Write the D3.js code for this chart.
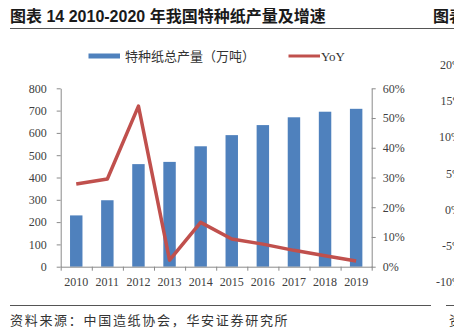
<!DOCTYPE html>
<html>
<head>
<meta charset="utf-8">
<script src="https://cdn.jsdelivr.net/npm/d3@7/dist/d3.min.js"></script>
<style>
  body { margin: 0; background: #fff; }
  svg { display: block; }
  .tick text { font-family: "Liberation Serif", "DejaVu Serif", serif; font-size: 12px; fill: #404040; }
</style>
</head>
<body>
<div id="chart"></div>
<script>
const W = 454, H = 335;

// 特种纸产量 2010-2019
const years = ["2010", "2011", "2012", "2013", "2014", "2015", "2016", "2017", "2018", "2019"];
const output = [230, 298, 460, 470, 540, 590, 635, 670, 695, 708];   // 万吨
const yoy = [0.278, 0.295, 0.540, 0.022, 0.149, 0.093, 0.076, 0.055, 0.037, 0.019];
const leftTicks = [0, 100, 200, 300, 400, 500, 600, 700, 800];
const rightTicks = [0, 0.1, 0.2, 0.3, 0.4, 0.5, 0.6];
// neighbouring panel, only its edge shows
const sideTicks = ["20%", "15%", "10%", "5%", "0%", "-5%", "-10%"];

const barColor = "#4F81BD", lineColor = "#C0504D", axisColor = "#8a8a8a";
const cjk = "'Noto Sans CJK SC', sans-serif";
const serif = "'Liberation Serif', 'DejaVu Serif', serif";

const svg = d3.select("#chart").append("svg")
    .attr("width", W)
    .attr("height", H);

const plotL = 60.7, plotR = 371.7, plotT = 88.3, plotB = 266.7;

const x = d3.scaleBand()
    .domain(years)
    .range([plotL, plotR])
    .paddingInner(0.6)
    .paddingOuter(0.3);

const slots = d3.scaleLinear().domain([0, years.length]).range([plotL, plotR]);

const y = d3.scaleLinear().domain([0, 800]).range([plotB, plotT]);
const y2 = d3.scaleLinear().domain([0, 0.6]).range([plotB, plotT]);

// title
svg.append("text")
    .attr("x", 10).attr("y", 22)
    .attr("font-family", "'Liberation Sans', " + cjk)
    .attr("font-weight", "bold")
    .attr("font-size", 16)
    .attr("fill", "#1a1a1a")
    .text("图表 14 2010-2020 年我国特种纸产量及增速");
svg.append("text")
    .attr("x", 433).attr("y", 22)
    .attr("font-family", cjk)
    .attr("font-weight", "bold")
    .attr("font-size", 16)
    .attr("fill", "#1a1a1a")
    .text("图表");
svg.append("line")
    .attr("x1", 10).attr("x2", W)
    .attr("y1", 28.5).attr("y2", 28.5)
    .attr("stroke", "#555").attr("stroke-width", 1);

// legend
const legend = svg.append("g").attr("font-family", cjk).attr("font-size", 13).attr("fill", "#333");
legend.append("rect")
    .attr("x", 88.5).attr("y", 53.5).attr("width", 31.5).attr("height", 5)
    .attr("fill", barColor);
legend.append("text")
    .attr("x", 125).attr("y", 60.5)
    .text("特种纸总产量（万吨）");
legend.append("line")
    .attr("x1", 288.5).attr("x2", 320).attr("y1", 56).attr("y2", 56)
    .attr("stroke", lineColor).attr("stroke-width", 3);
legend.append("text")
    .attr("x", 321).attr("y", 60.5)
    .attr("font-family", serif)
    .attr("font-size", 13)
    .text("YoY");

// bars
svg.append("g").selectAll("rect")
    .data(years)
    .join("rect")
    .attr("x", d => x(d))
    .attr("y", (d, i) => y(output[i]))
    .attr("width", x.bandwidth())
    .attr("height", (d, i) => y(0) - y(output[i]))
    .attr("fill", barColor);

// axes
const styleAxis = g => {
    g.selectAll(".domain").attr("stroke", axisColor);
    g.selectAll(".tick line").attr("stroke", axisColor);
};

svg.append("g")
    .attr("transform", `translate(${plotL},0)`)
    .call(d3.axisLeft(y).tickValues(leftTicks).tickSize(4).tickSizeOuter(0).tickPadding(10))
    .call(styleAxis);

svg.append("g")
    .attr("transform", `translate(${plotR},0)`)
    .call(d3.axisRight(y2).tickValues(rightTicks).tickFormat(d3.format(".0%")).tickSize(4).tickSizeOuter(0).tickPadding(7))
    .call(styleAxis);

svg.append("g")
    .attr("transform", `translate(0,${plotB})`)
    .call(d3.axisBottom(slots).tickValues(d3.range(years.length + 1)).tickFormat("").tickSize(4).tickSizeOuter(0))
    .call(styleAxis);

svg.append("g")
    .attr("transform", `translate(0,${plotB})`)
    .call(d3.axisBottom(x).tickSize(0).tickPadding(10.5))
    .call(g => g.select(".domain").remove());

// YoY line
svg.append("path")
    .datum(yoy)
    .attr("fill", "none")
    .attr("stroke", lineColor)
    .attr("stroke-width", 3.5)
    .attr("stroke-linejoin", "round")
    .attr("d", d3.line()
        .x((d, i) => x(years[i]) + x.bandwidth() / 2)
        .y(d => y2(d)));

// edge of next panel's axis
const side = d3.scaleLinear().domain([0, sideTicks.length - 1]).range([65, 281.7]);
svg.append("g").selectAll("text")
    .data(sideTicks)
    .join("text")
    .attr("x", (d, i) => [440, 440.5, 439, 446, 445, 442, 436][i])
    .attr("y", (d, i) => side(i))
    .attr("dy", "0.35em")
    .attr("font-family", serif)
    .attr("font-size", 12)
    .attr("fill", "#404040")
    .text(d => d);

// source
svg.append("line")
    .attr("x1", 10).attr("x2", 431)
    .attr("y1", 305.5).attr("y2", 305.5)
    .attr("stroke", "#555").attr("stroke-width", 1);
svg.append("line")
    .attr("x1", 446).attr("x2", W)
    .attr("y1", 305.5).attr("y2", 305.5)
    .attr("stroke", "#555").attr("stroke-width", 1);
svg.append("text")
    .attr("x", 10).attr("y", 324.5)
    .attr("font-family", cjk)
    .attr("font-size", 13)
    .attr("letter-spacing", 1.7)
    .attr("fill", "#333")
    .text("资料来源：中国造纸协会，华安证券研究所");
svg.append("text")
    .attr("x", 449).attr("y", 324.5)
    .attr("font-family", cjk)
    .attr("font-size", 13)
    .attr("fill", "#333")
    .text("资");
</script>
</body>
</html>
